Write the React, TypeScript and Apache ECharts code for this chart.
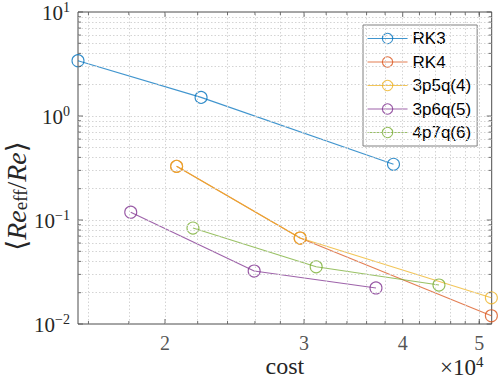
import React, { useEffect, useRef } from "react";
import * as echarts from "echarts";

const seriesNames = ["RK3", "RK4", "3p5q(4)", "3p6q(5)", "4p7q(6)"];
const rk3Cost = [15520, 22220, 38940];
const rk3Val = [3.4, 1.51, 0.343];
const rk4Cost = [20690, 29660, 51800];
const rk4Val = [0.328, 0.0671, 0.012];
const p5Cost = [20690, 29660, 51800];
const p5Val = [0.328, 0.0671, 0.01786];
const p6Cost = [18100, 25940, 37000];
const p6Val = [0.1188, 0.0323, 0.0222];
const p7Cost = [21700, 31080, 44460];
const p7Val = [0.0836, 0.0355, 0.0237];
const colors = ["#0072BD", "#D95319", "#EDB120", "#7E2F8E", "#77AC30"];

const xMin = 15520;
const xMax = 51850;
const yMin = 0.01;
const yMax = 10;
const xMajorTicks = [20000, 30000, 40000, 50000];
const xMinorTicks = [16000, 18000, 22000, 24000, 26000, 28000, 32000, 34000, 36000, 38000, 42000, 44000, 46000, 48000, 50000];
const yMajorTicks = [0.01, 0.1, 1, 10];
const yMinorTicks = [
  0.02, 0.03, 0.04, 0.05, 0.06, 0.07, 0.08, 0.09,
  0.2, 0.3, 0.4, 0.5, 0.6, 0.7, 0.8, 0.9,
  2, 3, 4, 5, 6, 7, 8, 9,
];

const AXIS_COLOR = "#4d4d4d";
const TEXT_COLOR = "#262626";
const SERIF = "'Liberation Serif', 'DejaVu Serif', serif";
const SANS = "'Liberation Sans', Arial, sans-serif";

function zip(a: number[], b: number[]) {
  return a.map((v, i) => [v, b[i]]);
}

function tickSeries(points: number[][], size: number[], offset: number[]) {
  return {
    type: "scatter",
    silent: true,
    clip: false,
    z: 6,
    symbol: "rect",
    symbolSize: size,
    symbolOffset: offset,
    itemStyle: { color: AXIS_COLOR },
    data: points,
  };
}

export default function App() {
  const ref = useRef<HTMLDivElement>(null);
  useEffect(() => {
    if (!ref.current) return;
    const chart = echarts.init(ref.current, null, { renderer: "svg" });
    const lineData = [
      zip(rk3Cost, rk3Val),
      zip(rk4Cost, rk4Val),
      zip(p5Cost, p5Val),
      zip(p6Cost, p6Val),
      zip(p7Cost, p7Val),
    ];
    const mainSeries = lineData.map((d, i) => ({
      type: "line",
      name: seriesNames[i],
      data: d,
      z: 3,
      symbol: "circle",
      symbolSize: 12,
      showSymbol: true,
      clip: false,
      lineStyle: { color: colors[i], width: 1.1, opacity: 0.75 },
      itemStyle: { color: "rgba(255,255,255,0)", borderColor: colors[i], borderWidth: 1.1, opacity: 0.8 },
    }));

    const gridLineStyle = { color: "#d4d4d4", width: 1, type: [1.5, 2] as any };
    const gridSeries = {
      type: "line",
      name: "__grid",
      data: [[xMin, yMin]],
      showSymbol: false,
      symbol: "none",
      z: 1,
      silent: true,
      markLine: {
        silent: true,
        symbol: ["none", "none"],
        label: { show: false },
        lineStyle: gridLineStyle,
        emphasis: { disabled: true },
        data: [
          ...xMajorTicks.concat(xMinorTicks).map((v) => ({ xAxis: v })),
          ...yMajorTicks.slice(1, 3).concat(yMinorTicks).map((v) => ({ yAxis: v })),
        ],
      },
    };

    const MAJ = 5;
    const MIN = 3;
    const tickSeriesList = [
      tickSeries(xMajorTicks.map((v) => [v, yMin]), [1, MAJ], [0, -MAJ / 2]),
      tickSeries(xMajorTicks.map((v) => [v, yMax]), [1, MAJ], [0, MAJ / 2]),
      tickSeries(xMinorTicks.map((v) => [v, yMin]), [1, MIN], [0, -MIN / 2]),
      tickSeries(xMinorTicks.map((v) => [v, yMax]), [1, MIN], [0, MIN / 2]),
      tickSeries(yMajorTicks.map((v) => [xMin, v]), [MAJ, 1], [MAJ / 2, 0]),
      tickSeries(yMajorTicks.map((v) => [xMax, v]), [MAJ, 1], [-MAJ / 2, 0]),
      tickSeries(yMinorTicks.map((v) => [xMin, v]), [MIN, 1], [MIN / 2, 0]),
      tickSeries(yMinorTicks.map((v) => [xMax, v]), [MIN, 1], [-MIN / 2, 0]),
    ];

    const xLabelSeries = {
      type: "scatter",
      silent: true,
      clip: false,
      symbol: "rect",
      symbolSize: 1,
      itemStyle: { color: "rgba(0,0,0,0)" },
      data: xMajorTicks.map((v) => [v, yMin]),
      label: {
        show: true,
        position: "bottom",
        distance: 8,
        formatter: (p: any) => String(Math.round(p.value[0] / 1e4)),
        fontSize: 20,
        fontFamily: SERIF,
        color: TEXT_COLOR,
      },
    };

    chart.setOption({
      animation: false,
      backgroundColor: "#ffffff",
      grid: {
        left: 78,
        right: 6.3,
        top: 12,
        bottom: 53,
        show: true,
        borderColor: AXIS_COLOR,
        borderWidth: 1,
        backgroundColor: "#ffffff",
      },
      legend: {
        data: seriesNames,
        orient: "vertical",
        left: 363,
        top: 25,
        itemWidth: 40,
        itemHeight: 13,
        itemGap: 6.5,
        padding: [5, 6, 5, 4],
        borderColor: "#808080",
        borderWidth: 1,
        backgroundColor: "#ffffff",
        lineStyle: { width: 1.1 },
        itemStyle: { borderWidth: 1.1 },
        textStyle: { fontSize: 17, fontFamily: SANS, color: "#000000", lineHeight: 17 },
      },
      xAxis: {
        type: "log",
        logBase: 10,
        min: xMin,
        max: xMax,
        axisLine: { show: false },
        axisTick: { show: false },
        axisLabel: { show: false },
        splitLine: { show: false },
        name: "cost",
        nameLocation: "middle",
        nameGap: 30,
        nameTextStyle: { fontSize: 24, fontFamily: SERIF, color: TEXT_COLOR },
      },
      yAxis: {
        type: "log",
        logBase: 10,
        min: yMin,
        max: yMax,
        axisLine: { show: false },
        axisTick: { show: false },
        splitLine: { show: false },
        axisLabel: {
          margin: 8,
          formatter: (v: number) => {
            const e = Math.round(Math.log10(v));
            return `{b|10}{s|${e < 0 ? "\u2212" + -e : e}}`;
          },
          rich: {
            b: { fontSize: 21, fontFamily: SERIF, color: TEXT_COLOR, verticalAlign: "bottom" },
            s: { fontSize: 14, fontFamily: SERIF, color: TEXT_COLOR, verticalAlign: "bottom", padding: [0, 0, 9, 0] },
          },
        },
      },
      graphic: [
        {
          type: "text",
          x: 16,
          y: 196,
          rotation: Math.PI / 2,
          style: {
            text: "\u27e8{i|Re}{sub|eff}{n|/}{i|Re}\u27e9",
            fontSize: 28,
            fontFamily: SERIF,
            fill: TEXT_COLOR,
            align: "center",
            verticalAlign: "middle",
            rich: {
              i: { fontSize: 28, fontFamily: SERIF, fontStyle: "italic", fill: TEXT_COLOR, verticalAlign: "top" },
              n: { fontSize: 28, fontFamily: SERIF, fill: TEXT_COLOR, verticalAlign: "top" },
              sub: { fontSize: 19, fontFamily: SERIF, fill: TEXT_COLOR, verticalAlign: "top", padding: [9, 0, 0, 0] },
            },
          },
        },
        {
          type: "text",
          x: 440,
          y: 354,
          style: {
            text: "{b|\u00d710}{s|4}",
            fill: TEXT_COLOR,
            rich: {
              b: { fontSize: 23, fontFamily: SERIF, fill: TEXT_COLOR, verticalAlign: "bottom" },
              s: { fontSize: 15, fontFamily: SERIF, fill: TEXT_COLOR, verticalAlign: "bottom", padding: [0, 0, 10, 0] },
            },
          },
        },
      ],
      series: [gridSeries, ...mainSeries, ...tickSeriesList, xLabelSeries],
    });
    return () => chart.dispose();
  }, []);
  return <div ref={ref} style={{ position: "fixed", left: 0, top: 0, width: 498, height: 383 }} />;
}
